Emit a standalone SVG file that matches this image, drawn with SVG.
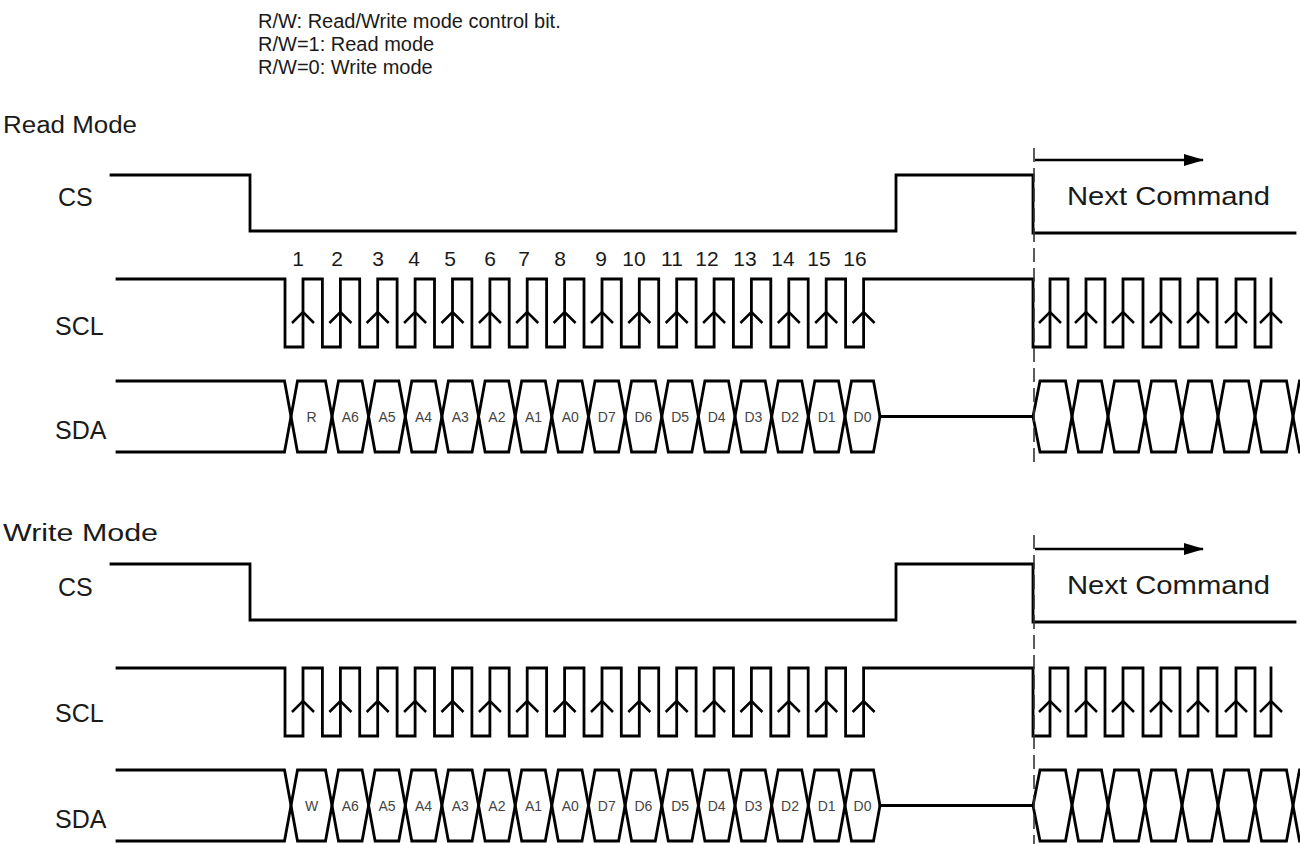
<svg xmlns="http://www.w3.org/2000/svg" width="1300" height="844" viewBox="0 0 1300 844">
<style>
.w{fill:none;stroke:#000;stroke-width:2.8;stroke-linejoin:miter;stroke-linecap:square}
.ch{fill:none;stroke:#000;stroke-width:2.5}
.dash{fill:none;stroke:#333;stroke-width:1.6;stroke-dasharray:14 6}
.arr{stroke:#000;stroke-width:2.5}
.t{font-family:"Liberation Sans",Arial,Helvetica,sans-serif;fill:#1a1a1a}
.hdr{font-size:20px}
.mode{font-size:23px}
.lbl{font-size:25px}
.nc{font-size:26px}
.num{font-size:21px;text-anchor:middle}
.bit{font-size:14px;fill:#444;text-anchor:middle}
</style>
<defs>
<marker id="ah" viewBox="0 0 20 14" refX="19" refY="7" markerWidth="20" markerHeight="14" markerUnits="userSpaceOnUse" orient="auto">
<path d="M0,1 L20,7 L0,13 Z" fill="#000"/>
</marker>
<path id="csWave" class="w" d="M111,175 H250 V231 H896 V175 H1033 V233 H1295"/>
<g id="sclWave">
<path class="w" d="M117,279 H285 V347 H303 V279 H322.4 V347 H340.4 V279 H359.7 V347 H377.7 V279 H397.1 V347 H415.1 V279 H434.5 V347 H452.5 V279 H471.9 V347 H489.9 V279 H509.2 V347 H527.2 V279 H546.6 V347 H564.6 V279 H584 V347 H602 V279 H621.3 V347 H639.3 V279 H658.7 V347 H676.7 V279 H696.1 V347 H714.1 V279 H733.4 V347 H751.4 V279 H770.8 V347 H788.8 V279 H808.2 V347 H826.2 V279 H845.6 V347 H863.6 V279 H1033 V347 H1050 V279 H1068 V347 H1086 V279 H1105 V347 H1123 V279 H1143 V347 H1161 V279 H1180 V347 H1198 V279 H1217 V347 H1236 V279 H1255 V347 H1271 V279"/>
<path class="ch" d="M292,323 L303,312 L314,323 M329.4,323 L340.4,312 L351.4,323 M366.7,323 L377.7,312 L388.7,323 M404.1,323 L415.1,312 L426.1,323 M441.5,323 L452.5,312 L463.5,323 M478.9,323 L489.9,312 L500.9,323 M516.2,323 L527.2,312 L538.2,323 M553.6,323 L564.6,312 L575.6,323 M591,323 L602,312 L613,323 M628.3,323 L639.3,312 L650.3,323 M665.7,323 L676.7,312 L687.7,323 M703.1,323 L714.1,312 L725.1,323 M740.4,323 L751.4,312 L762.4,323 M777.8,323 L788.8,312 L799.8,323 M815.2,323 L826.2,312 L837.2,323 M852.6,323 L863.6,312 L874.6,323 M1039,323 L1050,312 L1061,323 M1075,323 L1086,312 L1097,323 M1112,323 L1123,312 L1134,323 M1150,323 L1161,312 L1172,323 M1187,323 L1198,312 L1209,323 M1225,323 L1236,312 L1247,323 M1260,323 L1271,312 L1282,323"/>
</g>
<g id="sdaWave">
<path class="w" d="M117,381 H284.5 L297.5,452 H325.5 L338.5,381 H362.1 L375.1,452 H398.8 L411.8,381 H435.4 L448.4,452 H472.1 L485.1,381 H508.7 L521.7,452 H545.3 L558.3,381 H582 L595,452 H618.6 L631.6,381 H655.3 L668.3,452 H691.9 L704.9,381 H728.5 L741.5,452 H765.2 L778.2,381 H801.8 L814.8,452 H838.5 L851.5,381 H873.5 L880,416.5 H1033 L1040,381 H1065.5 L1078.5,452 H1101.5 L1114.5,381 H1138.5 L1151.5,452 H1175.5 L1188.5,381 H1211.5 L1224.5,452 H1248.5 L1261.5,381 H1286.5 L1299.5,452 H1312"/>
<path class="w" d="M117,452 H284.5 L297.5,381 H325.5 L338.5,452 H362.1 L375.1,381 H398.8 L411.8,452 H435.4 L448.4,381 H472.1 L485.1,452 H508.7 L521.7,381 H545.3 L558.3,452 H582 L595,381 H618.6 L631.6,452 H655.3 L668.3,381 H691.9 L704.9,452 H728.5 L741.5,381 H765.2 L778.2,452 H801.8 L814.8,381 H838.5 L851.5,452 H873.5 L880,416.5 M1033,416.5 L1040,452 H1065.5 L1078.5,381 H1101.5 L1114.5,452 H1138.5 L1151.5,381 H1175.5 L1188.5,452 H1211.5 L1224.5,381 H1248.5 L1261.5,452 H1286.5 L1299.5,381 H1312"/>
</g>
<g id="bits">
<text x="350.3" y="422">A6</text><text x="387" y="422">A5</text><text x="423.6" y="422">A4</text><text x="460.2" y="422">A3</text><text x="496.9" y="422">A2</text><text x="533.5" y="422">A1</text><text x="570.2" y="422">A0</text><text x="606.8" y="422">D7</text><text x="643.4" y="422">D6</text><text x="680.1" y="422">D5</text><text x="716.7" y="422">D4</text><text x="753.4" y="422">D3</text><text x="790" y="422">D2</text><text x="826.6" y="422">D1</text><text x="862.5" y="422">D0</text>
</g>
</defs>

<g id="header" class="t hdr">
<text x="258" y="28">R/W: Read/Write mode control bit.</text>
<text x="258" y="51">R/W=1: Read mode</text>
<text x="258" y="74">R/W=0: Write mode</text>
</g>

<g id="read-mode">
<text class="t mode" x="3" y="133" textLength="134" lengthAdjust="spacingAndGlyphs">Read Mode</text>
<g id="read-cs">
<text class="t lbl" x="58" y="206">CS</text>
<use href="#csWave"/>
</g>
<g id="read-scl">
<text class="t lbl" x="55" y="335">SCL</text>
<use href="#sclWave"/>
<g class="t num">
<text x="298" y="266">1</text><text x="337" y="266">2</text><text x="378" y="266">3</text><text x="414" y="266">4</text><text x="450" y="266">5</text><text x="490" y="266">6</text><text x="524" y="266">7</text><text x="560" y="266">8</text><text x="601" y="266">9</text><text x="634" y="266">10</text><text x="672" y="266">11</text><text x="707" y="266">12</text><text x="745" y="266">13</text><text x="783" y="266">14</text><text x="819" y="266">15</text><text x="855" y="266">16</text>
</g>
</g>
<g id="read-sda">
<text class="t lbl" x="55" y="439">SDA</text>
<use href="#sdaWave"/>
<g class="t bit"><text x="311.5" y="422">R</text><use href="#bits"/></g>
</g>
<g id="read-next">
<line class="dash" x1="1034" y1="148" x2="1034" y2="468"/>
<line class="arr" x1="1035" y1="160" x2="1203" y2="160" marker-end="url(#ah)"/>
<text class="t nc" x="1067" y="205" textLength="203" lengthAdjust="spacingAndGlyphs">Next Command</text>
</g>
</g>

<g id="write-mode">
<text class="t mode" x="3" y="541" textLength="155" lengthAdjust="spacingAndGlyphs">Write Mode</text>
<g id="write-cs">
<text class="t lbl" x="58" y="596">CS</text>
<use href="#csWave" y="389"/>
</g>
<g id="write-scl">
<text class="t lbl" x="55" y="722">SCL</text>
<use href="#sclWave" y="389"/>
</g>
<g id="write-sda">
<text class="t lbl" x="55" y="828">SDA</text>
<use href="#sdaWave" y="389"/>
<g class="t bit"><text x="311.5" y="811">W</text><use href="#bits" y="389"/></g>
</g>
<g id="write-next">
<line class="dash" x1="1034" y1="535" x2="1034" y2="844"/>
<line class="arr" x1="1035" y1="549" x2="1203" y2="549" marker-end="url(#ah)"/>
<text class="t nc" x="1067" y="594" textLength="203" lengthAdjust="spacingAndGlyphs">Next Command</text>
</g>
</g>
</svg>
